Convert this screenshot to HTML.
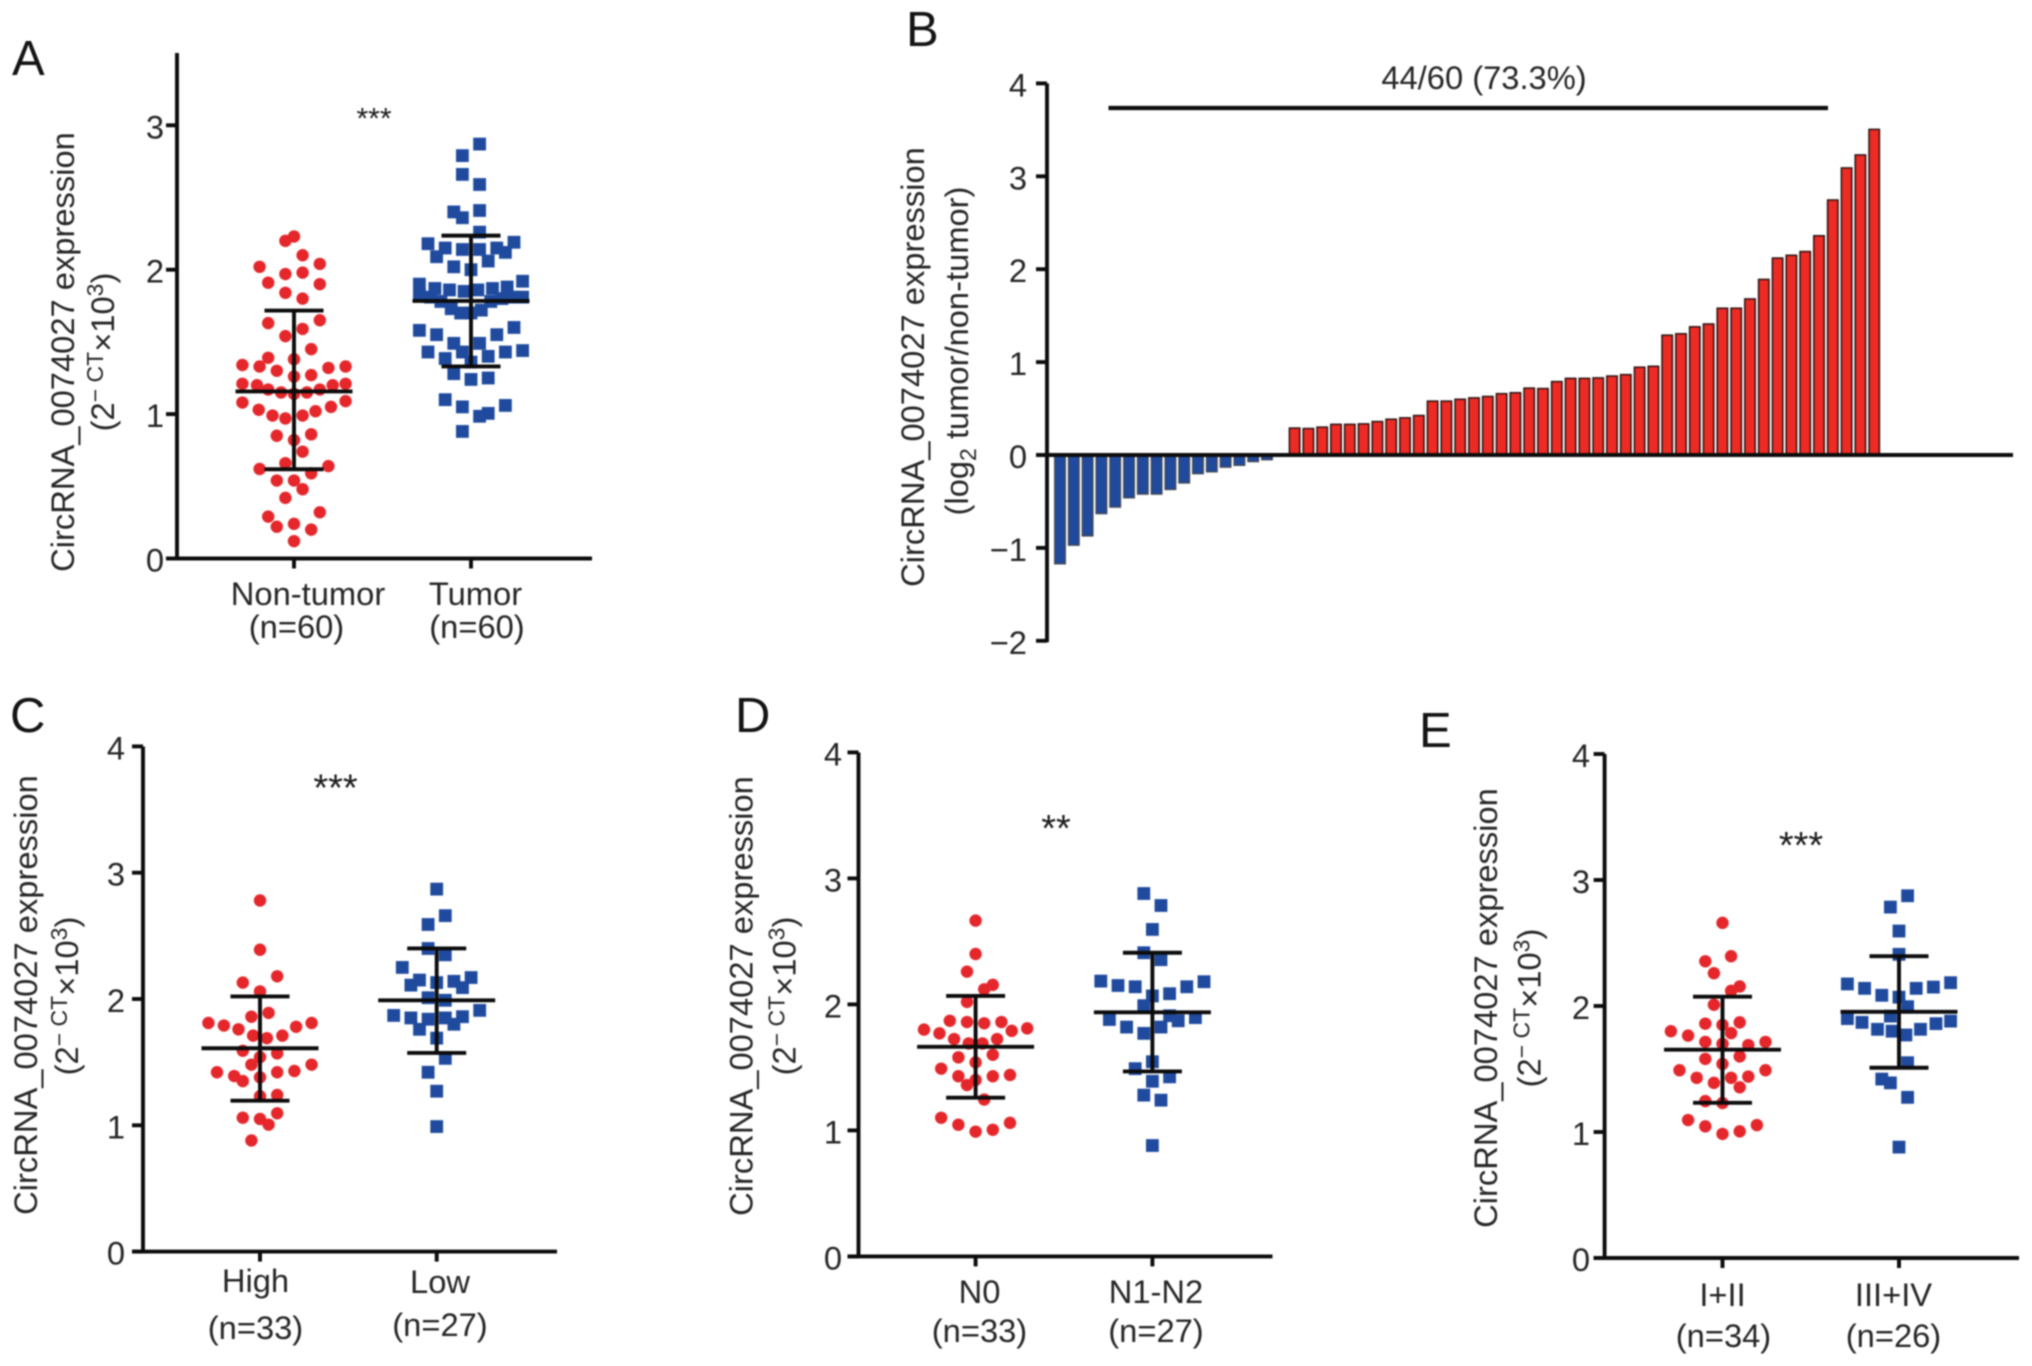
<!DOCTYPE html>
<html lang="en">
<head>
<meta charset="utf-8">
<title>CircRNA_0074027 expression panels</title>
<style>
  html, body { margin: 0; padding: 0; background: #fff; }
  svg { display: block; filter: blur(0.75px); }
  text { font-family: "Liberation Sans", sans-serif; fill: #262626; font-size: 32.7px; }
  .letter { font-size: 49px; fill: #141414; }
  .stars { fill: #1c1c1c; }
  .sup { font-size: 23px; }
</style>
</head>
<body>
<svg id="figure" xmlns="http://www.w3.org/2000/svg" width="2032" height="1366" viewBox="0 0 2032 1366">
  <rect width="2032" height="1366" fill="#fff"/>

  <!-- Panel letters -->
  <text class="letter" x="12" y="75">A</text>
  <text class="letter" x="906" y="46">B</text>
  <text class="letter" x="10" y="732">C</text>
  <text class="letter" x="735" y="732">D</text>
  <text class="letter" x="1419" y="747">E</text>

  <!-- Y axis titles -->
  <text transform="translate(74,352) rotate(-90)" text-anchor="middle">CircRNA_0074027 expression</text>
  <text transform="translate(114,352) rotate(-90)" text-anchor="middle">(2<tspan class="sup" dy="-11">− CT</tspan><tspan dy="11">×10</tspan><tspan class="sup" dy="-11">3</tspan><tspan dy="11">)</tspan></text>

  <text transform="translate(924,367) rotate(-90)" text-anchor="middle">CircRNA_0074027 expression</text>
  <text transform="translate(968,351) rotate(-90)" text-anchor="middle">(log<tspan class="sup" dy="8">2</tspan><tspan dy="-8"> tumor/non-tumor)</tspan></text>

  <text transform="translate(37,995) rotate(-90)" text-anchor="middle">CircRNA_0074027 expression</text>
  <text transform="translate(78,996) rotate(-90)" text-anchor="middle">(2<tspan class="sup" dy="-11">− CT</tspan><tspan dy="11">×10</tspan><tspan class="sup" dy="-11">3</tspan><tspan dy="11">)</tspan></text>

  <text transform="translate(752.5,996) rotate(-90)" text-anchor="middle">CircRNA_0074027 expression</text>
  <text transform="translate(795.5,996) rotate(-90)" text-anchor="middle">(2<tspan class="sup" dy="-11">− CT</tspan><tspan dy="11">×10</tspan><tspan class="sup" dy="-11">3</tspan><tspan dy="11">)</tspan></text>

  <text transform="translate(1497,1008) rotate(-90)" text-anchor="middle">CircRNA_0074027 expression</text>
  <text transform="translate(1540.5,1008) rotate(-90)" text-anchor="middle">(2<tspan class="sup" dy="-11">− CT</tspan><tspan dy="11">×10</tspan><tspan class="sup" dy="-11">3</tspan><tspan dy="11">)</tspan></text>

  <!-- Category labels -->
  <text x="308" y="605" text-anchor="middle">Non-tumor</text>
  <text x="296.5" y="638" text-anchor="middle">(n=60)</text>
  <text x="475.5" y="605" text-anchor="middle">Tumor</text>
  <text x="477" y="638" text-anchor="middle">(n=60)</text>

  <text x="255.5" y="1292" text-anchor="middle">High</text>
  <text x="255.5" y="1339" text-anchor="middle">(n=33)</text>
  <text x="440" y="1293" text-anchor="middle">Low</text>
  <text x="440" y="1336" text-anchor="middle">(n=27)</text>

  <text x="979.5" y="1303" text-anchor="middle">N0</text>
  <text x="979.5" y="1342" text-anchor="middle">(n=33)</text>
  <text x="1156" y="1303" text-anchor="middle">N1-N2</text>
  <text x="1156" y="1342" text-anchor="middle">(n=27)</text>

  <text x="1722.5" y="1306" text-anchor="middle">I+II</text>
  <text x="1723.5" y="1347" text-anchor="middle">(n=34)</text>
  <text x="1893.5" y="1306" text-anchor="middle">III+IV</text>
  <text x="1893.5" y="1347" text-anchor="middle">(n=26)</text>

  <!-- Significance -->
  <text class="stars" x="374" y="128.5" text-anchor="middle" style="font-size:30px">***</text>
  <text class="stars" x="335.5" y="800.5" text-anchor="middle" style="font-size:38px">***</text>
  <text class="stars" x="1056" y="841" text-anchor="middle" style="font-size:38px">**</text>
  <text class="stars" x="1801" y="858" text-anchor="middle" style="font-size:38px">***</text>

  <!-- Panel B annotation -->
  <text x="1484" y="89" text-anchor="middle">44/60 (73.3%)</text>
  <line x1="1108.5" x2="1828" y1="108" y2="108" stroke="#0c0c0c" stroke-width="4.2"/>

  <g id="plots"></g>
</svg>

<script>
// ---------- Panel A ----------
const aTicks = [0, 1, 2, 3];
const aRedValues = [2.20,2.23,2.10,2.02,2.04,1.97,1.98,1.91,1.90,1.84,1.80,1.63,1.65,1.59,1.54,1.45,1.39,1.38,1.34,1.33,1.33,1.32,1.30,1.27,1.26,1.21,1.20,1.21,1.20,1.17,1.15,1.14,1.15,1.17,1.08,1.09,1.05,1.03,1.02,0.99,0.99,0.97,0.85,0.86,0.82,0.74,0.66,0.62,0.64,0.59,0.54,0.54,0.48,0.42,0.32,0.29,0.22,0.24,0.20,0.12];
const aRedSlots = [-1,0,1,-4,3,-1,1,-3,3,-1,1,-3,3,1,-1,2,-3,0,-6,-4,6,4,-2,2,0,-6,-4.3,6,4.5,-3,-1.5,0,1.5,3,-6,6,4.3,-4.1,2.5,-2.5,1,-1,-2,2,0,1,-1,-4,4,2,-2,0,1,-1,3,-3,-2,0,2,0];
const aBlueValues = [2.87,2.79,2.66,2.59,2.40,2.36,2.41,2.26,2.18,2.15,2.09,2.14,2.14,2.15,2.12,2.19,2.06,2.02,2.00,1.90,1.92,1.87,1.86,1.85,1.86,1.87,1.88,1.83,1.81,1.81,1.81,1.80,1.78,1.78,1.73,1.70,1.70,1.72,1.58,1.55,1.60,1.55,1.49,1.49,1.43,1.43,1.43,1.44,1.385,1.40,1.36,1.28,1.24,1.25,1.10,1.05,1.06,0.985,1.005,0.88];
const aBlueSlots = [1,-1,-1,1,-2,-1,1,1,-5,-3,-4,-1,1,3,4,5,2,-2,0,-6,6,-4.2,-2.5,-0.8,0.8,2.5,4.2,-6,-4.7,6,4.9,3.6,2.3,-3.5,-2.3,-1.2,0,1.2,-6,-4,5,3,-2,1,-5,-1,4,6,-3,2,0,-2,0,2,-3,-1,4,1,2,-1];
const aRedStats = [1.157, 1.717, 0.618];
const aBlueStats = [1.784, 2.236, 1.33];

// ---------- Panel B ----------
const bTicks = [-2, -1, 0, 1, 2, 3, 4];
const bValues = [-1.17,-0.97,-0.87,-0.63,-0.56,-0.46,-0.42,-0.42,-0.37,-0.30,-0.20,-0.18,-0.13,-0.11,-0.07,-0.05,0,0.29,0.285,0.30,0.33,0.33,0.335,0.36,0.385,0.40,0.425,0.58,0.58,0.60,0.615,0.63,0.66,0.67,0.72,0.715,0.79,0.825,0.825,0.83,0.85,0.865,0.945,0.955,1.29,1.305,1.38,1.41,1.58,1.58,1.68,1.89,2.12,2.15,2.19,2.36,2.745,3.09,3.23,3.505];

// ---------- Panel C ----------
const cTicks = [0, 1, 2, 3, 4];
const cRedValues = [2.78,2.39,2.18,2.13,2.06,1.89,1.86,1.81,1.79,1.76,1.81,1.78,1.71,1.71,1.69,1.59,1.57,1.54,1.48,1.48,1.42,1.42,1.43,1.39,1.35,1.38,1.23,1.24,1.095,1.06,1.05,1.005,0.88];
const cRedSlots = [0,0,2,-2,0,1,-1,-6,-4.2,-2.5,6,4.2,2.6,-0.8,0.8,-2,2,0,-1,6,-5,2,4,-3,-2,0,0,2,2,-2,0,1,-1];
const cBlueValues = [2.87,2.66,2.59,2.40,2.35,2.25,2.17,2.15,2.11,2.13,2.14,2.09,2.01,1.99,1.87,1.85,1.84,1.85,1.86,1.91,1.76,1.80,1.69,1.53,1.42,1.27,0.99];
const cBlueSlots = [0,1,-1,-1,1,-4,4,-2,-3,0,2,3,-1,1,-5,-3,-1,1,3,5,-2,2,0,1,-1,0,0];
const cRedStats = [1.61, 2.02, 1.195];
const cBlueStats = [1.99, 2.40, 1.573];

// ---------- Panel D ----------
const dTicks = [0, 1, 2, 3, 4];
const dRedValues = [2.665,2.40,2.26,2.155,2.12,2.02,1.87,1.86,1.85,1.86,1.80,1.77,1.79,1.81,1.725,1.725,1.69,1.69,1.58,1.60,1.54,1.49,1.43,1.43,1.44,1.40,1.36,1.245,1.10,1.045,1.06,1.005,0.99];
const dRedSlots = [0,0,-1,2,1,-1,-3,-1,1,3,-6,-4.2,4.2,6,-2.5,2.5,-0.8,0.8,-2,2,0,-4,-2,2,4,0,-1,1,-4,-2,4,2,0];
const dBlueValues = [2.88,2.785,2.595,2.41,2.355,2.185,2.18,2.15,2.14,2.14,2.085,2.067,1.99,1.91,1.88,1.87,1.895,1.82,1.82,1.77,1.545,1.49,1.425,1.39,1.28,1.24,0.88];
const dBlueSlots = [-1,1,0,-1,1,-6,6,-4,-2,4,2,0,-1,2,-5,3,5,-3,1,-1,0,-2,2,0,-1,1,0];
const dRedStats = [1.663, 2.067, 1.26];
const dBlueStats = [1.937, 2.41, 1.468];

// ---------- Panel E ----------
const eTicks = [0, 1, 2, 3, 4];
const eRedValues = [2.66,2.395,2.355,2.26,2.155,2.12,2.01,1.86,1.85,1.87,1.80,1.765,1.785,1.715,1.715,1.69,1.70,1.58,1.60,1.54,1.49,1.49,1.43,1.43,1.44,1.39,1.355,1.245,1.23,1.095,1.045,1.055,1.005,0.985];
const eRedSlots = [0,1,-2,-1,2,1,-1,-2,0,2,-6,-4,1,-2,5,3,0,-2,2,0,-5,5,-3,1,3,-1,2,-2,0,-4,-2,4,2,0];
const eBlueValues = [2.875,2.785,2.595,2.41,2.175,2.185,2.14,2.14,2.15,2.085,2.07,1.995,1.92,1.90,1.87,1.88,1.86,1.815,1.815,1.80,1.77,1.55,1.42,1.39,1.275,0.88];
const eBlueSlots = [1,-1,0,0,-6,6,-4,2,4,-2,0,1,-1,-6,-4.3,6,4.3,-2.5,2.5,-0.8,0.8,1,-2,-1,1,0];
const eRedStats = [1.653, 2.074, 1.232];
const eBlueStats = [1.954, 2.395, 1.51];

// ---------- Rendering ----------
const NS = 'http://www.w3.org/2000/svg';
const plots = document.getElementById('plots');
const RED = '#e5262b';
const BLUE = '#1f4a9e';
const INK = '#0c0c0c';
const SLOT_PX = 8.6;
const LINE_W = 3.9;

function make(parent, tag, props) {
  const el = document.createElementNS(NS, tag);
  for (const key in props) el.setAttribute(key, props[key]);
  parent.appendChild(el);
  return el;
}

function linearY(zeroPx, unitPx) {
  return function (v) { return zeroPx - v * unitPx; };
}

function drawYAxis(group, ticks, y, axisX, topPx, labelRight, panel) {
  const bottom = y(ticks[0]);
  const axis = make(group, 'line', { x1: axisX, x2: axisX, y1: topPx, y2: bottom + 1.5, stroke: INK, 'stroke-width': LINE_W });
  
  
  ticks.forEach(function (t) {
    const mark = make(group, 'line', { x1: axisX - 11, x2: axisX, y1: y(t), y2: y(t), stroke: INK, 'stroke-width': LINE_W });
    
    
    const label = make(group, 'text', { x: labelRight, y: y(t) + 13, 'text-anchor': 'end' });
    label.textContent = String(t).replace('-', '\u2212');
    
    
  });
}

function drawStats(group, cx, y, stats, name) {
  const segs = [
    [cx - 58.5, cx + 58.5, y(stats[0]), y(stats[0])],
    [cx - 29.5, cx + 29.5, y(stats[1]), y(stats[1])],
    [cx - 29.5, cx + 29.5, y(stats[2]), y(stats[2])],
    [cx, cx, y(stats[1]), y(stats[2])]
  ];
  const parts = ['mean', 'upper-cap', 'lower-cap', 'stem'];
  segs.forEach(function (s, i) {
    const ln = make(group, 'line', { x1: s[0], x2: s[1], y1: s[2], y2: s[3], stroke: INK, 'stroke-width': LINE_W });
    
    
  });
}

function drawCircles(group, cx, y, values, slots, name) {
  values.forEach(function (v, i) {
    const dot = make(group, 'circle', { cx: cx + slots[i] * SLOT_PX, cy: y(v), r: 6.2, fill: RED });
    
    
  });
}

function drawSquares(group, cx, y, values, slots, name) {
  values.forEach(function (v, i) {
    const sq = make(group, 'rect', { x: cx + slots[i] * SLOT_PX - 6.4, y: y(v) - 6.4, width: 12.8, height: 12.8, fill: BLUE });
    
    
  });
}

function drawScatterPanel(p) {
  const group = make(plots, 'g', {});
  
  
  const y = linearY(p.zero, p.unit);
  const xAxis = make(group, 'line', { x1: p.axisX - 11, x2: p.right, y1: y(0), y2: y(0), stroke: INK, 'stroke-width': LINE_W });
  
  
  [p.cx1, p.cx2].forEach(function (cx, i) {
    const t = make(group, 'line', { x1: cx, x2: cx, y1: y(0), y2: y(0) + 10, stroke: INK, 'stroke-width': LINE_W });
    
    
  });
  drawYAxis(group, p.ticks, y, p.axisX, p.top, p.labelRight, p.id);
  drawCircles(group, p.cx1, y, p.redValues, p.redSlots, p.id + '-red');
  drawSquares(group, p.cx2, y, p.blueValues, p.blueSlots, p.id + '-blue');
  drawStats(group, p.cx1, y, p.redStats, p.id + '-red');
  drawStats(group, p.cx2, y, p.blueStats, p.id + '-blue');
}

function drawBarPanel() {
  const group = make(plots, 'g', {});
  
  
  const y = linearY(455, 92.9);
  const xBand = function (i) { return 1060 + i * 13.8; };
  bValues.forEach(function (v, i) {
    if (v === 0) return;
    const top = Math.min(y(v), y(0));
    const bar = make(group, 'rect', {
      x: xBand(i) - 5.2, y: top, width: 10.4, height: Math.abs(y(v) - y(0)),
      fill: v < 0 ? BLUE : '#ee2a24', stroke: v < 0 ? '#3d4658' : '#2a1210', 'stroke-width': 1.5
    });
    
    
  });
  drawYAxis(group, bTicks, y, 1047, y(4), 1027, 'b');
  const zero = make(group, 'line', { x1: 1036, x2: 2013, y1: y(0), y2: y(0), stroke: INK, 'stroke-width': 4 });
  
  
}

drawScatterPanel({ id: 'a', zero: 558.5, unit: 144.4, axisX: 177, top: 53, right: 592, cx1: 294, cx2: 471, labelRight: 164, ticks: aTicks, redValues: aRedValues, redSlots: aRedSlots, blueValues: aBlueValues, blueSlots: aBlueSlots, redStats: aRedStats, blueStats: aBlueStats });
drawBarPanel();
drawScatterPanel({ id: 'c', zero: 1251.6, unit: 126.3, axisX: 143, top: 746.5, right: 557, cx1: 260, cx2: 436.7, labelRight: 125, ticks: cTicks, redValues: cRedValues, redSlots: cRedSlots, blueValues: cBlueValues, blueSlots: cBlueSlots, redStats: cRedStats, blueStats: cBlueStats });
drawScatterPanel({ id: 'd', zero: 1256.4, unit: 126, axisX: 858.5, top: 752.5, right: 1272.5, cx1: 975.6, cx2: 1152.4, labelRight: 842, ticks: dTicks, redValues: dRedValues, redSlots: dRedSlots, blueValues: dBlueValues, blueSlots: dBlueSlots, redStats: dRedStats, blueStats: dBlueStats });
drawScatterPanel({ id: 'e', zero: 1258, unit: 126, axisX: 1604.6, top: 754, right: 2019, cx1: 1722.5, cx2: 1899, labelRight: 1590, ticks: eTicks, redValues: eRedValues, redSlots: eRedSlots, blueValues: eBlueValues, blueSlots: eBlueSlots, redStats: eRedStats, blueStats: eBlueStats });
</script>
</body>
</html>
